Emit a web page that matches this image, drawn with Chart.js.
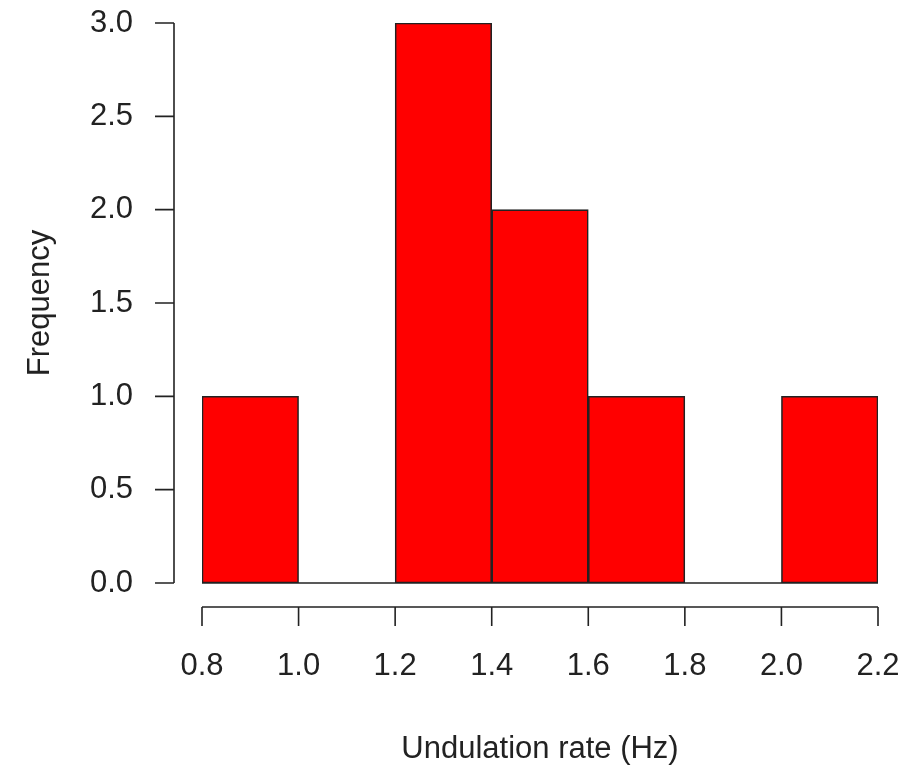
<!DOCTYPE html>
<html>
<head>
<meta charset="utf-8">
<script src="https://cdn.jsdelivr.net/npm/chart.js@4"></script>
<style>
  html, body { margin: 0; padding: 0; background: #fff; }
  #wrap { width: 924px; height: 769px; }
</style>
</head>
<body>
<div id="wrap"><canvas id="hist" width="924" height="769"></canvas></div>
<script>
// bin edges (Hz) and counts per bin
const binEdges = [0.8, 1.0, 1.2, 1.4, 1.6, 1.8, 2.0, 2.2];
const counts = [1, 0, 3, 2, 1, 0, 1];
const xTicks = [0.8, 1.0, 1.2, 1.4, 1.6, 1.8, 2.0, 2.2];
const yTicks = [0.0, 0.5, 1.0, 1.5, 2.0, 2.5, 3.0];
const xTitle = "Undulation rate (Hz)";
const yTitle = "Frequency";

const FONT = '31px "Liberation Sans", Arial, sans-serif';
const INK = "#222";

const bars = counts.map((c, i) => ({ x: (binEdges[i] + binEdges[i + 1]) / 2, y: c }));

// base-graphics style axes, offset from the bars
const rAxes = {
  id: "rAxes",
  afterDraw(chart) {
    const ctx = chart.ctx;
    const xs = chart.scales.x, ys = chart.scales.y;
    ctx.save();
    ctx.strokeStyle = INK;
    ctx.fillStyle = INK;
    ctx.lineWidth = 1.6;
    ctx.font = FONT;

    // baseline under empty bins
    const y0 = ys.getPixelForValue(0);
    ctx.beginPath();
    ctx.moveTo(xs.getPixelForValue(binEdges[0]), y0);
    ctx.lineTo(xs.getPixelForValue(binEdges[binEdges.length - 1]), y0);
    ctx.stroke();

    // y axis
    const ax = 174;
    ctx.beginPath();
    ctx.moveTo(ax, ys.getPixelForValue(yTicks[0]));
    ctx.lineTo(ax, ys.getPixelForValue(yTicks[yTicks.length - 1]));
    yTicks.forEach(v => {
      const p = ys.getPixelForValue(v);
      ctx.moveTo(155, p);
      ctx.lineTo(ax, p);
    });
    ctx.stroke();
    ctx.textAlign = "right";
    ctx.textBaseline = "middle";
    yTicks.forEach(v => ctx.fillText(v.toFixed(1), 133, ys.getPixelForValue(v)));

    // x axis
    const ay = 607;
    ctx.beginPath();
    ctx.moveTo(xs.getPixelForValue(xTicks[0]), ay);
    ctx.lineTo(xs.getPixelForValue(xTicks[xTicks.length - 1]), ay);
    xTicks.forEach(v => {
      const p = xs.getPixelForValue(v);
      ctx.moveTo(p, ay);
      ctx.lineTo(p, 626);
    });
    ctx.stroke();
    ctx.textAlign = "center";
    xTicks.forEach(v => ctx.fillText(v.toFixed(1), xs.getPixelForValue(v), 666));

    // titles
    ctx.fillText(xTitle, (xs.left + xs.right) / 2, 749);
    ctx.translate(40, (ys.top + ys.bottom) / 2);
    ctx.rotate(-Math.PI / 2);
    ctx.fillText(yTitle, 0, 0);
    ctx.restore();
  }
};

new Chart(document.getElementById("hist"), {
  type: "bar",
  data: {
    datasets: [{
      data: bars,
      backgroundColor: "#ff0000",
      borderColor: INK,
      borderWidth: 1.6,
      borderSkipped: false,
      barPercentage: 1,
      categoryPercentage: 1
    }]
  },
  options: {
    responsive: false,
    animation: false,
    layout: { padding: { left: 202, right: 46, top: 23, bottom: 186 } },
    plugins: { legend: { display: false }, tooltip: { enabled: false } },
    scales: {
      x: { type: "linear", min: 0.8, max: 2.2, offset: false, display: false },
      y: { min: 0, max: 3, display: false }
    }
  },
  plugins: [rAxes]
});
</script>
</body>
</html>
